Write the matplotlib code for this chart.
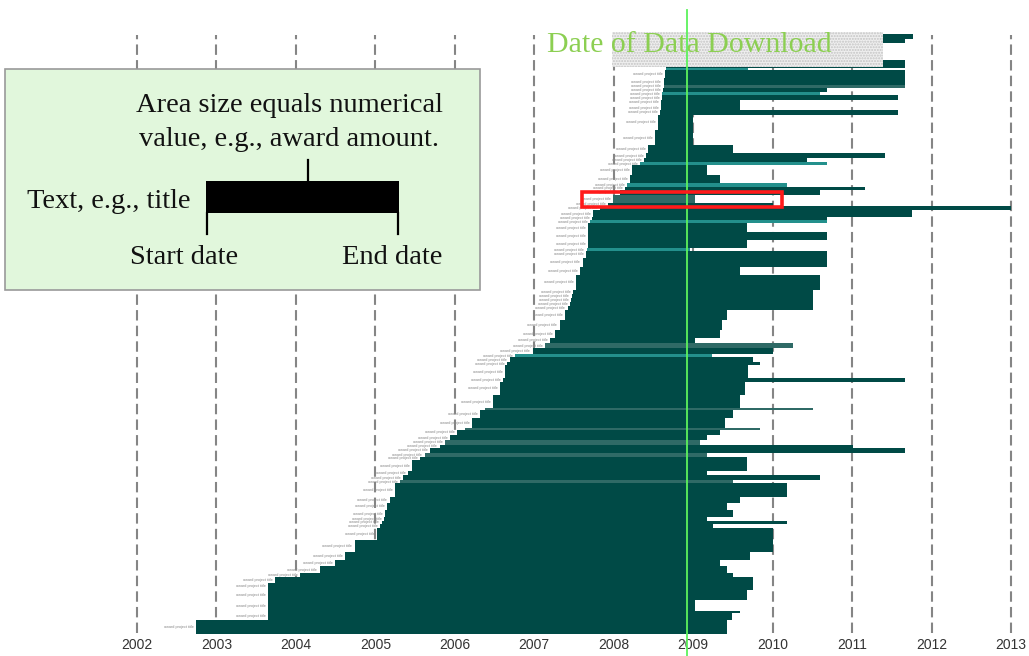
import matplotlib.pyplot as plt
from matplotlib.patches import Rectangle
import numpy as np

plt.rcParams["font.family"] = "sans-serif"
plt.rcParams["font.sans-serif"] = "Liberation Sans"

# one row per award, listed from the earliest start date (bottom) upwards
start = [2002.74, 2003.65, 2003.65, 2003.65, 2003.65, 2003.65, 2003.74, 2004.05, 2004.30, 2004.49,
         2004.62, 2004.74, 2005.02, 2005.06, 2005.08, 2005.11, 2005.12, 2005.15, 2005.18, 2005.25,
         2005.31, 2005.35, 2005.41, 2005.46, 2005.56, 2005.62, 2005.69, 2005.81, 2005.88, 2005.94,
         2006.03, 2006.13, 2006.22, 2006.32, 2006.38, 2006.48, 2006.57, 2006.61, 2006.63, 2006.66,
         2006.69, 2006.76, 2006.98, 2007.14, 2007.20, 2007.26, 2007.32, 2007.39, 2007.42, 2007.45,
         2007.46, 2007.47, 2007.49, 2007.53, 2007.58, 2007.61, 2007.65, 2007.66, 2007.68, 2007.68,
         2007.68, 2007.70, 2007.73, 2007.74, 2007.83, 2007.93, 2007.99, 2008.08, 2008.14, 2008.17,
         2008.21, 2008.23, 2008.33, 2008.38, 2008.41, 2008.43, 2008.52, 2008.56, 2008.58, 2008.60,
         2008.60, 2008.61, 2008.61, 2008.62, 2008.63, 2008.63, 2008.65, 2008.66, 2008.66, 2008.67,
         2008.68, 2008.68]
end = [2009.43, 2009.49, 2009.59, 2009.02, 2009.68, 2009.75, 2009.75, 2009.50, 2009.43, 2009.34,
       2009.72, 2010.00, 2010.00, 2009.25, 2010.18, 2009.17, 2009.50, 2009.43, 2009.59, 2010.18,
       2009.50, 2010.60, 2009.17, 2009.68, 2009.68, 2009.17, 2011.67, 2011.01, 2009.09, 2009.17,
       2009.34, 2009.84, 2009.40, 2009.50, 2010.51, 2009.59, 2009.65, 2011.67, 2009.69, 2009.84,
       2009.75, 2009.24, 2010.00, 2010.26, 2009.02, 2009.34, 2009.36, 2009.43, 2010.51, 2010.51,
       2010.51, 2010.51, 2010.51, 2010.60, 2009.59, 2010.68, 2010.68, 2008.96, 2009.68, 2010.68,
       2009.68, 2010.68, 2010.68, 2011.75, 2013.00, 2010.00, 2009.02, 2010.60, 2011.16, 2010.18,
       2009.34, 2009.17, 2010.68, 2010.43, 2011.41, 2009.50, 2009.00, 2009.00, 2011.58, 2009.59,
       2009.59, 2011.58, 2010.60, 2010.68, 2011.67, 2011.67, 2011.67, 2009.69, 2011.67, 2011.29,
       2011.67, 2011.77]
amount = [14, 7, 2, 11, 10, 7, 6, 4, 7, 6,
          8, 12, 12, 4, 3, 4, 7, 7, 6, 14,
          3, 5, 4, 11, 3, 4, 5, 3, 5, 5,
          5, 2, 10, 8, 2, 13, 13, 4, 13, 3,
          5, 3, 6, 5, 5, 8, 10, 10, 4, 4,
          4, 4, 4, 15, 8, 9, 7, 3, 8, 8,
          9, 3, 3, 7, 4, 3, 8, 5, 3, 4,
          8, 10, 3, 4, 5, 8, 15, 15, 5, 5,
          5, 5, 3, 4, 3, 7, 8, 2, 8, 17,
          4, 5]
# d = dark bar, t = teal line, l = thin pale line
kind = list("dddddddddd" "dddddddddd" "lddddlddld" "dlddlddddd"
            "dtdldddddd" "dddddddtdd" "dtddddlddt" "ddtddddddd"
            "ddtdlddtdd" "dd")

years = list(range(2002, 2014))
download_date = 2008.92

colors = {"d": "#004a46", "t": "#23908c", "l": "#2f6a66"}

fig = plt.figure(figsize=(10.29, 6.56), dpi=100)
ax = fig.add_axes([0, 0, 1, 1])
px_per_year = 79.45
ax.set_xlim(2002 - 137 / px_per_year, 2002 + (1029 - 137) / px_per_year)
ax.set_ylim(-22, 634)
ax.axis("off")

# dashed year lines
ax.vlines(years, 1, 599, colors="#858585", linestyles=(0, (5, 2.5)), linewidth=1.5, zorder=1)
for yr in years:
    ax.text(yr, -11, str(yr), ha="center", va="center", fontsize=10, color="#333333")

amount = np.array(amount)
bottoms = np.concatenate([[0], np.cumsum(amount)[:-1]])
widths = np.array(end) - np.array(start)
ax.barh(bottoms + amount / 2, widths, height=amount, left=start,
        color=[colors[k] for k in kind], linewidth=0, zorder=2)

# tiny award titles left of each bar (the top ones sit under the header box)
for s, b, a in zip(start, bottoms, amount):
    if a >= 3 and b < 560:
        ax.text(s - 0.03, b + a / 2, "award project title", ha="right", va="center",
                fontsize=2.8, color="#8a8a8a", zorder=2)

# overlay in pixel units for the annotations
ov = fig.add_axes([0, 0, 1, 1])
ov.set_xlim(0, 1029)
ov.set_ylim(656, 0)
ov.axis("off")
ov.patch.set_alpha(0)

ov.add_patch(Rectangle((612, 32), 271, 35, facecolor="#efefef", edgecolor="#c4c4c4",
                       hatch="......", linewidth=0, zorder=1))
gx = 137 + (download_date - 2002) * px_per_year
ov.plot([gx, gx], [10, 656], color="#5cf25c", linewidth=1.3, zorder=2)
ov.text(547, 45, "Date of Data Download", fontsize=21.5, color="#8ccf52",
        family="Liberation Serif", va="center", ha="left", zorder=3)

ov.add_patch(Rectangle((582, 192), 200, 15, fill=False, edgecolor="#ff1a1a", linewidth=2.6, zorder=4))

# legend box
ov.add_patch(Rectangle((5, 69), 475, 221, facecolor="#e1f7dc", edgecolor="#9a9a9a", linewidth=1.2, zorder=5))
serif = dict(family="Liberation Serif", fontsize=20.5, color="#111111", zorder=6)
ov.text(289, 105, "Area size equals numerical", ha="center", va="center", **serif)
ov.text(289, 140, "value, e.g., award amount.", ha="center", va="center", **serif)
ov.text(27, 202, "Text, e.g., title", ha="left", va="center", **serif)
ov.text(184, 257, "Start date", ha="center", va="center", **serif)
ov.text(392, 257, "End date", ha="center", va="center", **serif)
ov.add_patch(Rectangle((206, 181), 193, 32, facecolor="black", linewidth=0, zorder=6))
ov.plot([308, 308], [160, 181], color="black", linewidth=1.6, zorder=6)
ov.plot([207, 207], [213, 234], color="black", linewidth=1.6, zorder=6)
ov.plot([398, 398], [213, 234], color="black", linewidth=1.6, zorder=6)

fig.savefig("out.png", dpi=100)
